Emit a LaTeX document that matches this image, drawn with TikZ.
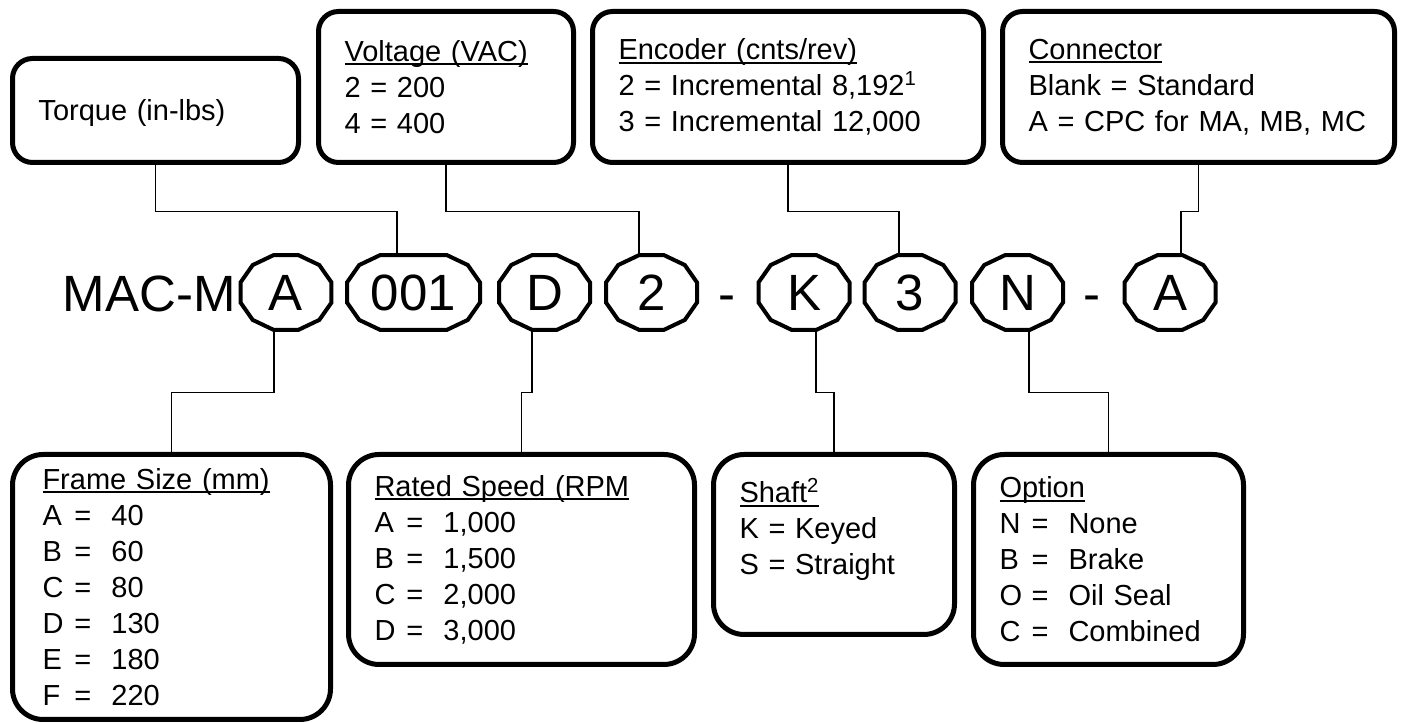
\documentclass[tikz,border=0pt]{standalone}
\usepackage{fontspec}
\setmainfont{Liberation Sans}
\usetikzlibrary{calc}

\newcommand{\boxfont}{\fontsize{21.75}{27}\selectfont}
\newcommand{\codefont}{\fontsize{38.25}{40}\selectfont}
% underlined heading with the rule close under the baseline
\newcommand{\ulhead}[1]{\setbox0=\hbox{#1}\rlap{\rule[-3pt]{\wd0}{1.5pt}}\box0}
% letter = value row with fixed columns
\newcommand{\optrow}[2]{\makebox[24pt][l]{#1}\makebox[27.75pt][l]{=}#2}
% one cell of the part number: name, x, extra half width, text
\newcommand{\codecell}[4]{%
  \node[codetext, minimum width={(2*#3+91)*0.75pt}, minimum height=56.25pt] (#1) at (#2,430.5) {#4};
  \draw[octline] (#1.center) +({#3+47.1*cos(15)},{38.8*sin(15)})
    \foreach \ang in {45,75} {-- +({#3+47.1*cos(\ang)},{38.8*sin(\ang)})}
    \foreach \ang in {105,135,...,255} {-- +({-#3+47.1*cos(\ang)},{38.8*sin(\ang)})}
    \foreach \ang in {285,315,345} {-- +({#3+47.1*cos(\ang)},{38.8*sin(\ang)})}
    -- cycle;}

\begin{document}
\begin{tikzpicture}[x=0.75pt, y=0.75pt,
  boxed/.style={draw, line width=3.75pt, align=left, inner xsep=19.5pt, inner ysep=0pt, font=\boxfont},
  topbox/.style={boxed, rounded corners=15pt},
  lowbox/.style={boxed, rounded corners=23pt},
  wire/.style={line width=1.1pt},
  octline/.style={line width=3pt},
  codetext/.style={font=\codefont, inner sep=0pt}]
\useasboundingbox (0,0) rectangle (1402,723);

% boxes above the part number
\node[topbox, minimum width=214.5pt, minimum height=78pt, text width=175.5pt, text depth=0pt] (torque) at (155.5,612.5) {Torque (in-lbs)};
\node[topbox, minimum width=191.25pt, minimum height=113.25pt, text width=152.25pt] (voltage) at (446,636)
  {\ulhead{Voltage (VAC)}\\2 = 200\\4 = 400};
\node[topbox, minimum width=293.25pt, minimum height=113.25pt, text width=254.25pt] (encoder) at (788,636)
  {\ulhead{Encoder (cnts/rev)}\\2 = Incremental 8,192\textsuperscript{1}\\3 = Incremental 12,000};
\node[topbox, minimum width=294pt, minimum height=113.25pt, text width=255pt] (connector) at (1198.5,636)
  {\ulhead{Connector}\\Blank = Standard\\A = CPC for MA, MB, MC};

% the part number
\node[codetext, anchor=base east] (prefix) at (236,411.5) {MAC-M};
\codecell{cfr}{286}{0}{A}
\codecell{ctq}{413.5}{21}{001}
\codecell{csp}{544.5}{0}{D}
\codecell{cvo}{651.5}{0}{2}
\node[codetext, anchor=base] (dash1) at (727,411.5) {-};
\codecell{csh}{804}{0}{K}
\codecell{cen}{910}{0}{3}
\codecell{cop}{1017.5}{0}{N}
\node[codetext, anchor=base] (dash2) at (1092,411.5) {-};
\codecell{cco}{1170}{0}{A}

% boxes below the part number
\node[lowbox, minimum width=238.5pt, minimum height=198.75pt, inner xsep=22.5pt, text width=193.5pt] (frame) at (171.5,136)
  {\ulhead{Frame Size (mm)}\\\optrow{A}{40}\\\optrow{B}{60}\\\optrow{C}{80}\\\optrow{D}{130}\\\optrow{E}{180}\\\optrow{F}{220}};
\node[lowbox, minimum width=259.5pt, minimum height=157.5pt, text width=220.5pt] (speed) at (521.5,163.5)
  {\ulhead{Rated Speed (RPM}\\\optrow{A}{1,000}\\\optrow{B}{1,500}\\\optrow{C}{2,000}\\\optrow{D}{3,000}};
\node[lowbox, minimum width=180.75pt, minimum height=135pt, text width=141.75pt] (shaft) at (834,178.5)
  {\ulhead{Shaft\textsuperscript{2}}\\K = Keyed\\S = Straight\\\mbox{}};
\node[lowbox, minimum width=202.5pt, minimum height=157.5pt, text width=163.5pt] (option) at (1108.5,163.5)
  {\ulhead{Option}\\\optrow{N}{None}\\\optrow{B}{Brake}\\\optrow{O}{Oil Seal}\\\optrow{C}{Combined}};

% connectors from the top boxes
\draw[wire] (torque.south) -- ++(0,-46.5) -| ($(ctq.north)+(-16.5,0)$);
\draw[wire] (voltage.south) -- ++(0,-46.5) -| ($(cvo.north)+(-12.5,0)$);
\draw[wire] (encoder.south) -- ++(0,-46.5) -| ($(cen.north)+(-11,0)$);
\draw[wire] (connector.south) -- ++(0,-46.5) -| ($(cco.north)+(11,0)$);
% connectors to the lower boxes
\draw[wire] ($(cfr.south)+(-12,0)$) -- ++(0,-62) -| (frame.north);
\draw[wire] ($(csp.south)+(-12.5,0)$) -- ++(0,-62) -| (speed.north);
\draw[wire] ($(csh.south)+(12,0)$) -- ++(0,-62) -| (shaft.north);
\draw[wire] ($(cop.south)+(11.5,0)$) -- ++(0,-62) -| (option.north);
\end{tikzpicture}
\end{document}
